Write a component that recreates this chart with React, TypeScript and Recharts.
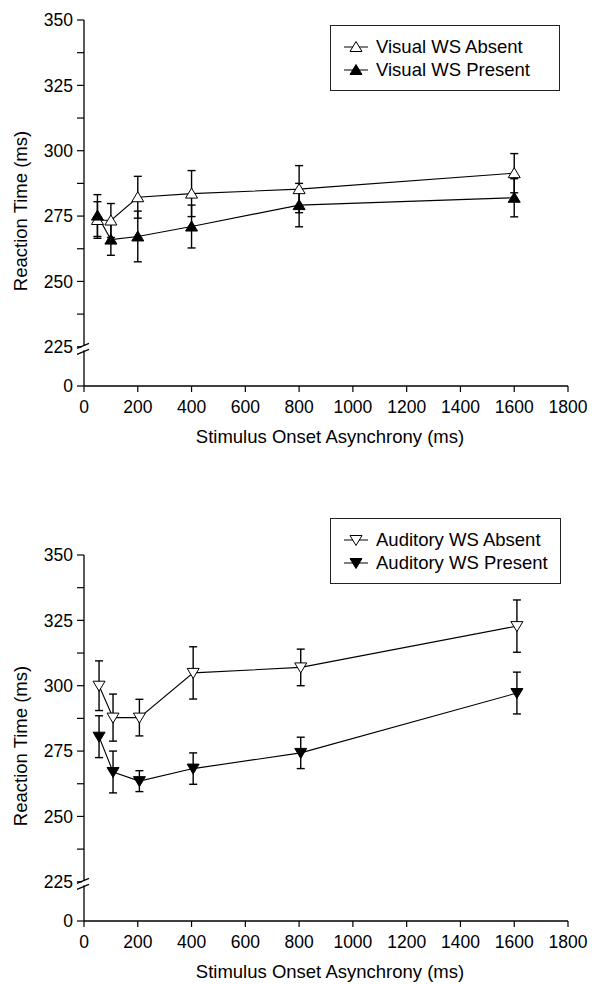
import React from "react";
import {
  LineChart,
  Line,
  XAxis,
  YAxis,
  ErrorBar,
  ReferenceDot,
} from "recharts";

// ---- Data ----
const soaVisual = [50, 100, 200, 400, 800, 1600];
const visualAbsent = [273.5, 273.3, 282.2, 283.6, 285.3, 291.4];
const visualAbsentErr = [7, 6.5, 8, 8.8, 9, 7.5];
const visualPresent = [275.2, 266, 267.2, 271, 279.2, 282];
const visualPresentErr = [8, 6, 9.7, 8.2, 8.3, 7.3];

const soaAuditory = [56, 108, 206, 406, 806, 1610];
const auditoryAbsent = [300, 287.8, 287.8, 304.9, 307, 322.8];
const auditoryAbsentErr = [9.5, 9, 7, 10, 7, 10];
const auditoryPresent = [280.5, 267, 263.5, 268.3, 274.3, 297.2];
const auditoryPresentErr = [8, 8, 4, 6, 6, 8];

const xTicks = [0, 200, 400, 600, 800, 1000, 1200, 1400, 1600, 1800];
const yTicks = [210, 225, 237.5, 250, 262.5, 275, 287.5, 300, 312.5, 325, 337.5, 350];
const yMajorLabels = [225, 250, 275, 300, 325, 350];
const yBreakBottom = 210; // displayed as "0"
const yBreakAt = 224;

const xTitle = "Stimulus Onset Asynchrony (ms)";
const yTitle = "Reaction Time (ms)";

const FONT = "'Liberation Sans', Arial, Helvetica, sans-serif";

type Row = { x: number; a: number; aErr: number; p: number; pErr: number };

function buildRows(xs: number[], a: number[], ae: number[], p: number[], pe: number[]): Row[] {
  return xs.map((x, i) => ({ x, a: a[i], aErr: ae[i], p: p[i], pErr: pe[i] }));
}

const visualRows = buildRows(soaVisual, visualAbsent, visualAbsentErr, visualPresent, visualPresentErr);
const auditoryRows = buildRows(soaAuditory, auditoryAbsent, auditoryAbsentErr, auditoryPresent, auditoryPresentErr);

function Tri({ cx, cy, fill, up }: { cx: number; cy: number; fill: string; up: boolean }) {
  const pts = up
    ? `${cx},${cy - 5.5} ${cx - 6},${cy + 4.5} ${cx + 6},${cy + 4.5}`
    : `${cx - 6},${cy - 4.5} ${cx + 6},${cy - 4.5} ${cx},${cy + 5.5}`;
  return <polygon points={pts} fill={fill} stroke="#000" strokeWidth={1} />;
}

function LegendBox({
  items,
  up,
  left,
  top,
  width,
}: {
  items: { label: string; fill: string }[];
  up: boolean;
  left: number;
  top: number;
  width: number;
}) {
  return (
    <div
      style={{
        position: "absolute",
        left,
        top,
        width,
        boxSizing: "border-box",
        border: "1.3px solid #222",
        padding: "9px 0 9px 12px",
        background: "#fff",
        fontFamily: FONT,
        fontSize: 18.5,
        color: "#000",
      }}
    >
      {items.map((it) => (
        <div key={it.label} style={{ display: "flex", alignItems: "center", height: 23, whiteSpace: "nowrap" }}>
          <svg width={26} height={14} style={{ marginRight: 7 }}>
            <line x1={1} y1={7} x2={25} y2={7} stroke="#000" strokeWidth={1} />
            <Tri cx={13} cy={7} fill={it.fill} up={up} />
          </svg>
          <span>{it.label}</span>
        </div>
      ))}
    </div>
  );
}

function BreakMark(props: any) {
  const { cx, cy } = props;
  if (cx == null || cy == null) return null;
  return (
    <g>
      <rect x={cx - 2} y={cy - 3.5} width={4} height={4.5} fill="#fff" />
      <line x1={cx - 7} y1={cy - 1} x2={cx + 5} y2={cy - 6} stroke="#000" strokeWidth={1.2} />
      <line x1={cx - 7} y1={cy + 5} x2={cx + 5} y2={cy} stroke="#000" strokeWidth={1.2} />
    </g>
  );
}

function Panel({
  rows,
  up,
  height,
  marginTop,
  marginBottom,
}: {
  rows: Row[];
  up: boolean;
  height: number;
  marginTop: number;
  marginBottom: number;
}) {
  return (
    <LineChart
      width={592}
      height={height}
      data={rows}
      margin={{ top: marginTop, right: 24, bottom: marginBottom, left: 0 }}
    >
      <XAxis
        dataKey="x"
        type="number"
        domain={[0, 1800]}
        ticks={xTicks}
        interval={0}
        height={50}
        tickSize={6}
        tickMargin={9}
        axisLine={{ stroke: "#000", strokeWidth: 1.3 }}
        tickLine={{ stroke: "#000", strokeWidth: 1.2 }}
        tick={{ fill: "#000", fontSize: 17.5, fontFamily: FONT }}
        label={{
          content: (p: any) => {
            const vb = p.viewBox || { x: 84, y: 386, width: 484 };
            return (
              <text
                x={vb.x + vb.width / 2 + 4}
                y={vb.y + 57}
                textAnchor="middle"
                fill="#000"
                fontSize={18.5}
                fontFamily={FONT}
              >
                {xTitle}
              </text>
            );
          },
        }}
      />
      <YAxis
        type="number"
        domain={[yBreakBottom, 350]}
        ticks={yTicks}
        interval={0}
        width={84}
        tickSize={7}
        tickMargin={4}
        allowDataOverflow
        axisLine={{ stroke: "#000", strokeWidth: 1.3 }}
        tickLine={{ stroke: "#000", strokeWidth: 1.2 }}
        tick={{ fill: "#000", fontSize: 17.5, fontFamily: FONT }}
        tickFormatter={(v: number) =>
          v === yBreakBottom ? "0" : yMajorLabels.includes(v) ? String(v) : ""
        }
        label={{
          content: (p: any) => {
            const vb = p.viewBox || { x: 0, y: marginTop, width: 84, height: 366 };
            const x = 20;
            const y = vb.y + vb.height / 2 + 8;
            return (
              <text
                x={x}
                y={y}
                transform={`rotate(-90 ${x} ${y})`}
                textAnchor="middle"
                dominantBaseline="central"
                fill="#000"
                fontSize={18.5}
                fontFamily={FONT}
              >
                {yTitle}
              </text>
            );
          },
        }}
      />
      <Line
        dataKey="a"
        stroke="#000"
        strokeWidth={1.1}
        isAnimationActive={false}
        dot={(p: any) => <Tri key={`a${p.index}`} cx={p.cx} cy={p.cy} fill="#fff" up={up} />}
        activeDot={false}
      >
        <ErrorBar dataKey="aErr" direction="y" width={4} stroke="#000" strokeWidth={1.4} isAnimationActive={false} />
      </Line>
      <Line
        dataKey="p"
        stroke="#000"
        strokeWidth={1.1}
        isAnimationActive={false}
        dot={(p: any) => <Tri key={`p${p.index}`} cx={p.cx} cy={p.cy} fill="#000" up={up} />}
        activeDot={false}
      >
        <ErrorBar dataKey="pErr" direction="y" width={4} stroke="#000" strokeWidth={1.4} isAnimationActive={false} />
      </Line>
      <ReferenceDot x={0} y={yBreakAt} ifOverflow="visible" shape={BreakMark} />
    </LineChart>
  );
}

export default function App() {
  return (
    <div style={{ position: "relative", width: 592, height: 984, background: "#fff", fontFamily: FONT }}>
      <style>{`body{margin:0;background:#fff;}`}</style>
      <div style={{ position: "absolute", left: 0, top: 0 }}>
        <Panel rows={visualRows} up={true} height={460} marginTop={20} marginBottom={24} />
      </div>
      <LegendBox
        up={true}
        left={330}
        top={25}
        width={230}
        items={[
          { label: "Visual WS Absent", fill: "#fff" },
          { label: "Visual WS Present", fill: "#000" },
        ]}
      />
      <div style={{ position: "absolute", left: 0, top: 490 }}>
        <Panel rows={auditoryRows} up={false} height={494} marginTop={65} marginBottom={13} />
      </div>
      <LegendBox
        up={false}
        left={330}
        top={518}
        width={231}
        items={[
          { label: "Auditory WS Absent", fill: "#fff" },
          { label: "Auditory WS Present", fill: "#000" },
        ]}
      />
    </div>
  );
}
